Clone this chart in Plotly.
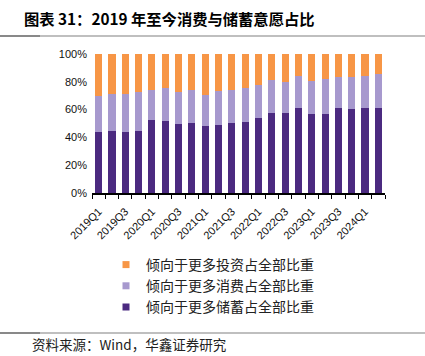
import plotly.graph_objects as go

quarters = ["2019Q1","2019Q2","2019Q3","2019Q4","2020Q1","2020Q2","2020Q3","2020Q4",
            "2021Q1","2021Q2","2021Q3","2021Q4","2022Q1","2022Q2","2022Q3","2022Q4",
            "2023Q1","2023Q2","2023Q3","2023Q4","2024Q1","2024Q2"]
savings = [43.9, 44.3, 43.6, 44.8, 52.2, 51.8, 49.6, 50.6, 48.2, 48.6, 50.1,
           51.1, 54.0, 57.3, 57.3, 60.9, 57.1, 57.1, 61.4, 60.1, 60.9, 60.9]
consumption = [25.9, 26.6, 27.6, 27.9, 21.9, 23.5, 23.3, 23.2, 22.3, 25.0, 24.0,
               24.4, 23.4, 24.0, 22.8, 23.0, 23.2, 24.6, 21.8, 23.6, 23.3, 24.9]
investment = [30.2, 29.1, 28.8, 27.3, 25.9, 24.7, 27.1, 26.2, 29.5, 26.4, 25.9,
              24.5, 22.6, 18.7, 19.9, 16.1, 19.7, 18.3, 16.8, 16.3, 15.8, 14.2]
tick_labels = [q if i % 2 == 0 else "" for i, q in enumerate(quarters)]

names = {"inv": "倾向于更多投资占全部比重", "con": "倾向于更多消费占全部比重", "sav": "倾向于更多储蓄占全部比重"}
colors = {"inv": "#F79646", "con": "#A799CE", "sav": "#4B2A80"}

W, H = 425, 356
L, R, T, B = 92, 40, 54, 163
pw, ph = W - L - R, H - T - B

def px(xp):
    return (xp - L) / pw

def py(yp):
    return (H - B - yp) / ph

fig = go.Figure()
for key, vals in [("sav", savings), ("con", consumption), ("inv", investment)]:
    fig.add_trace(go.Bar(x=quarters, y=vals, name=names[key], marker_color=colors[key],
                         marker_line_width=0, showlegend=False, hoverinfo="skip"))
for key in ["inv", "con", "sav"]:
    fig.add_trace(go.Scatter(x=[None], y=[None], mode="markers", name=names[key],
                             marker=dict(symbol="square", size=7, color=colors[key]),
                             legendgroup=key))

font_cjk = "Noto Sans CJK SC"
fig.update_layout(
    width=W, height=H, barmode="stack", bargap=0.47,
    margin=dict(l=L, r=R, t=T, b=B, autoexpand=False),
    plot_bgcolor="white", paper_bgcolor="white",
    showlegend=True,
    legend=dict(xref="container", yref="container", x=106 / W, y=1 - 249 / H,
                xanchor="left", yanchor="top",
                font=dict(family=font_cjk, size=14, color="#222"),
                traceorder="normal", tracegroupgap=11, bgcolor="rgba(0,0,0,0)"),
    xaxis=dict(type="category", tickmode="array", tickvals=quarters, ticktext=tick_labels,
               tickangle=-45, tickfont=dict(family="Liberation Sans", size=11, color="#111"),
               showline=True, linecolor="black", linewidth=1.5, ticks="outside",
               tickson="boundaries", ticklen=4, tickcolor="black", showgrid=False,
               automargin=False, ticklabelstandoff=6),
    yaxis=dict(range=[0, 100], tickvals=[0, 20, 40, 60, 80, 100],
               ticktext=["0%", "20%", "40%", "60%", "80%", "100%"],
               tickfont=dict(family="Liberation Sans", size=11, color="#111"),
               showgrid=False, zeroline=False, showline=False, ticks="", ticklabelstandoff=4,
               automargin=False),
)

fig.add_annotation(text="<b>图表 31：2019 年至今消费与储蓄意愿占比</b>", xref="paper", yref="paper",
                   x=px(22), y=py(18), xanchor="left", yanchor="middle", showarrow=False,
                   font=dict(family=font_cjk, size=15.3, color="black"))
fig.add_annotation(text="资料来源：Wind，华鑫证券研究", xref="paper", yref="paper",
                   x=px(30), y=py(344), xanchor="left", yanchor="middle", showarrow=False,
                   font=dict(family=font_cjk, size=13.5, color="#222"))

for yline in [36, 333]:
    fig.add_shape(type="line", xref="paper", yref="paper", x0=px(0), x1=px(W), y0=py(yline), y1=py(yline),
                  line=dict(color="#AAAAAA", width=1.5))
    fig.add_shape(type="line", xref="paper", yref="paper", x0=px(0), x1=px(40), y0=py(yline), y1=py(yline),
                  line=dict(color="#777777", width=1.5))

fig.write_html("out.html", config={"displayModeBar": False},
               post_script="document.body.style.margin='0';document.body.style.overflow='hidden';")
